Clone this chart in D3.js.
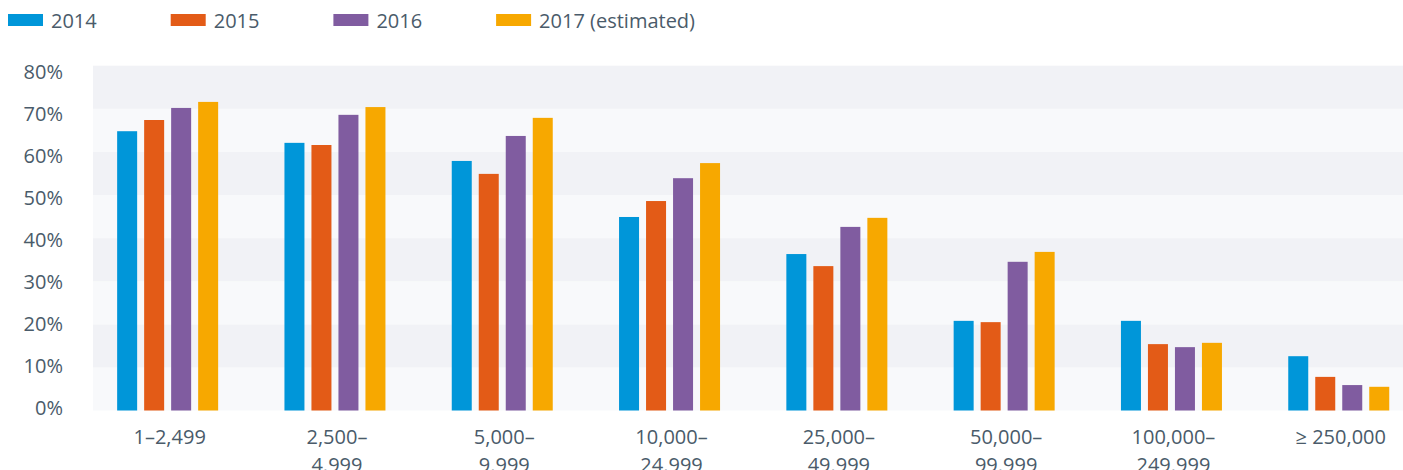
<!DOCTYPE html>
<html>
<head>
<meta charset="utf-8">
<script src="https://cdn.jsdelivr.net/npm/d3@7"></script>
<style>
  body { margin: 0; background: #fff; }
  text { font-family: "Open Sans", sans-serif; fill: #4a5b6a; }
</style>
</head>
<body>
<svg id="chart" width="1403" height="470"></svg>
<script>
// Data
const categories = ["1–2,499", "2,500–|4.999", "5,000–|9.999", "10,000–|24.999",
  "25,000–|49.999", "50,000–|99.999", "100,000–|249.999", "≥ 250,000"];
const seriesNames = ["2014", "2015", "2016", "2017 (estimated)"];
const values2014 = [64.8, 62.1, 57.9, 44.9, 36.3, 20.8, 20.8, 12.6];
const values2015 = [67.4, 61.6, 54.9, 48.6, 33.5, 20.5, 15.4, 7.8];
const values2016 = [70.2, 68.6, 63.7, 53.9, 42.6, 34.5, 14.7, 5.9];
const values2017 = [71.6, 70.4, 67.9, 57.4, 44.7, 36.8, 15.7, 5.5];
const yTicks = [0, 10, 20, 30, 40, 50, 60, 70, 80];

const allSeries = [values2014, values2015, values2016, values2017];
const colors = ["#0096d9", "#e35b17", "#805ca0", "#f7a800"];

const svg = d3.select("#chart");

// Scales
const plotLeft = 93, plotRight = 1403;
const y = d3.scaleLinear().domain([0, 80]).range([410.5, 65.7]);
// tick labels sit on a slightly tighter spacing than the bands
const yLabel = d3.scaleLinear().domain([0, 80]).range([408, 71.5]);
const x0 = d3.scaleBand().domain(categories).range([84, 84 + 8 * 167.3]);
const x1 = d3.scaleBand().domain(seriesNames).range([0, 101]).paddingInner(7 / 27);
const groupOffset = (x0.bandwidth() - 101) / 2;
const color = d3.scaleOrdinal().domain(seriesNames).range(colors);

// Alternating background bands
const bands = yTicks.slice(0, -1);
svg.append("g")
  .selectAll("rect")
  .data(bands)
  .enter()
  .append("rect")
  .attr("x", plotLeft)
  .attr("width", plotRight - plotLeft)
  .attr("y", (d) => y(d + 10))
  .attr("height", (d) => y(d) - y(d + 10))
  .attr("fill", (d, i) => (i % 2 === 0 ? "#f8f9fb" : "#f1f2f6"));

// Bars
const groups = svg.append("g")
  .selectAll("g")
  .data(categories)
  .enter()
  .append("g")
  .attr("transform", (d) => "translate(" + (x0(d) + groupOffset) + ",0)");

groups.selectAll("rect")
  .data((d, i) => seriesNames.map((s, j) => ({ s: s, v: allSeries[j][i] })))
  .enter()
  .append("rect")
  .attr("x", (d) => x1(d.s))
  .attr("width", x1.bandwidth())
  .attr("y", (d) => y(d.v))
  .attr("height", (d) => y(0) - y(d.v))
  .attr("fill", (d) => color(d.s));

// Y axis labels
svg.append("g")
  .selectAll("text")
  .data(yTicks)
  .enter()
  .append("text")
  .attr("x", 63)
  .attr("y", (d) => yLabel(d))
  .attr("dy", "0.35em")
  .attr("text-anchor", "end")
  .style("font-size", "20px")
  .text((d) => d + "%");

// X axis labels (two lines)
const xl = svg.append("g")
  .selectAll("text")
  .data(categories)
  .enter()
  .append("text")
  .attr("text-anchor", "middle")
  .style("font-size", "20px");

xl.selectAll("tspan")
  .data((d) => d.split("|").map((t) => ({ t: t, c: d })))
  .enter()
  .append("tspan")
  .attr("x", (d) => x0(d.c) + x0.bandwidth() / 2 + 2)
  .attr("y", (d, i) => 444 + i * 28)
  .text((d) => d.t);

// Legend
const legend = svg.append("g")
  .selectAll("g")
  .data(seriesNames)
  .enter()
  .append("g")
  .attr("transform", (d, i) => "translate(" + (8 + i * 162.7) + ",0)");

legend.append("rect")
  .attr("y", 14)
  .attr("width", 35)
  .attr("height", 12)
  .attr("fill", (d) => color(d));

legend.append("text")
  .attr("x", 43)
  .attr("y", 28)
  .style("font-size", "20px")
  .text((d) => d);
</script>
</body>
</html>
